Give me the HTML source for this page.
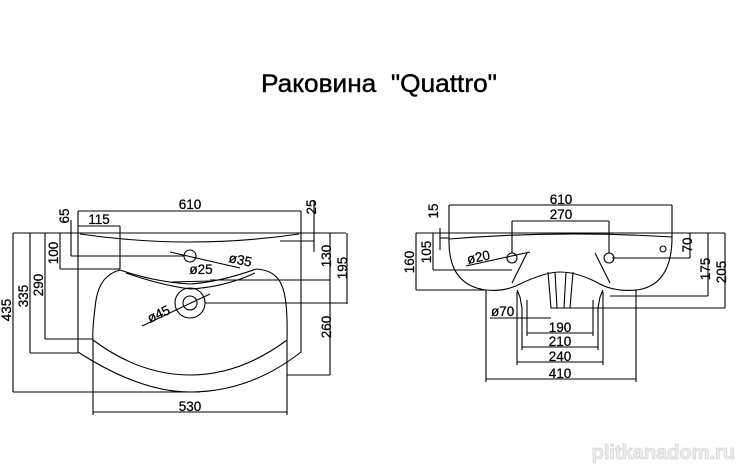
<!DOCTYPE html>
<html><head><meta charset="utf-8"><style>
html,body{margin:0;padding:0;background:#fff;}
svg{display:block;}
text{font-family:"Liberation Sans",sans-serif;fill:#000;}
.d{font-size:13.5px;stroke:#000;stroke-width:0.25;}
</style></head><body>
<svg width="743" height="468" viewBox="0 0 743 468" xmlns="http://www.w3.org/2000/svg">
<text x="379" y="92" text-anchor="middle" font-size="25" textLength="236" lengthAdjust="spacingAndGlyphs" style="stroke:#000;stroke-width:0.4;white-space:pre" xml:space="preserve">Раковина  "Quattro"</text>

<g fill="none" stroke="#000" stroke-width="1.1">
<line x1="13" y1="233" x2="346" y2="233"/>
<path d="M78 233 L78 352 Q140 392 190 392 Q250 392 301 352 L301 233"/>
<path d="M80 234 Q190 250 299 234"/>
<path d="M120 270 Q100 275 96 300 Q92 330 93 340 Q140 375 190 375 Q240 375 287 340 Q288 300 282 286 Q276 270 256 269 Q220 282 190 284 Q155 282 120 270 Z"/>
<path d="M126 273 Q160 285 190 289 Q225 287 255 273"/>
<line x1="172" y1="282" x2="210" y2="281"/>
<circle cx="190" cy="256" r="6"/>
<circle cx="190" cy="303" r="15"/>
<circle cx="190" cy="303" r="7"/>
<line x1="170" y1="252" x2="240" y2="268"/>
<line x1="142" y1="326" x2="210" y2="294"/>
<line x1="78" y1="211" x2="301" y2="211"/>
<line x1="78" y1="211" x2="78" y2="233"/>
<line x1="301" y1="211" x2="301" y2="233"/>
<line x1="78" y1="226" x2="120" y2="226"/>
<line x1="120" y1="226" x2="120" y2="269"/>
<line x1="13" y1="233" x2="13" y2="392"/><line x1="13" y1="392" x2="200" y2="392"/>
<line x1="30" y1="233" x2="30" y2="353"/><line x1="30" y1="353" x2="78" y2="353"/>
<line x1="45" y1="233" x2="45" y2="339"/><line x1="45" y1="339" x2="93" y2="339"/>
<line x1="60" y1="233" x2="60" y2="269"/><line x1="60" y1="269" x2="120" y2="269"/>
<line x1="71" y1="220" x2="71" y2="256"/><line x1="71" y1="256" x2="184" y2="256"/>
<line x1="314" y1="200" x2="314" y2="252"/><line x1="280" y1="241" x2="314" y2="241"/>
<line x1="330" y1="233" x2="330" y2="375"/>
<line x1="210" y1="280" x2="330" y2="280"/>
<line x1="287" y1="375" x2="330" y2="375"/>
<line x1="347" y1="233" x2="347" y2="304"/>
<line x1="205" y1="303" x2="347" y2="303"/>
<line x1="93" y1="340" x2="93" y2="415"/>
<line x1="287" y1="340" x2="287" y2="415"/>
<line x1="93" y1="412" x2="287" y2="412"/>

<line x1="416" y1="233" x2="725" y2="233"/>
<path d="M449 239 Q560 230 672 237"/>
<path d="M449 239 Q448 285 486 290 Q505 292 520 284 Q545 272 560 272 Q578 272 600 284 Q615 292 637 290 Q672 285 672 237"/>
<path d="M527 253 L512 283"/>
<path d="M595 253 L610 283"/>
<path d="M548 272 L551 308 L570 308 L573 272"/>
<path d="M555 272 L557 308 M566 272 L564 308"/>
<path d="M517 290 L520 297 L522 308 M603 290 L600 297 L598 308"/>
<circle cx="512" cy="258" r="5"/>
<circle cx="609" cy="258" r="5"/>
<circle cx="663" cy="249" r="3"/>
<line x1="449" y1="205" x2="672" y2="205"/>
<line x1="449" y1="205" x2="449" y2="240"/>
<line x1="672" y1="205" x2="672" y2="237"/>
<line x1="512" y1="221" x2="609" y2="221"/>
<line x1="512" y1="221" x2="512" y2="253"/>
<line x1="609" y1="221" x2="609" y2="253"/>
<line x1="416" y1="233" x2="416" y2="290"/><line x1="416" y1="290" x2="486" y2="290"/>
<line x1="433" y1="233" x2="433" y2="270"/><line x1="433" y1="270" x2="512" y2="270"/>
<line x1="440" y1="228" x2="440" y2="250"/><line x1="440" y1="238" x2="449" y2="238"/>
<line x1="690" y1="233" x2="690" y2="258"/><line x1="612" y1="258" x2="690" y2="258"/>
<line x1="708" y1="233" x2="708" y2="296"/><line x1="610" y1="296" x2="708" y2="296"/>
<line x1="725" y1="233" x2="725" y2="308"/><line x1="570" y1="308" x2="725" y2="308"/>
<line x1="490" y1="318" x2="551" y2="318"/>
<line x1="527" y1="300" x2="527" y2="336"/><line x1="593" y1="300" x2="593" y2="336"/>
<line x1="527" y1="333" x2="593" y2="333"/>
<line x1="522" y1="308" x2="522" y2="350"/><line x1="598" y1="308" x2="598" y2="350"/>
<line x1="522" y1="347" x2="598" y2="347"/>
<line x1="517" y1="292" x2="517" y2="365"/><line x1="603" y1="292" x2="603" y2="365"/>
<line x1="517" y1="362" x2="603" y2="362"/>
<line x1="486" y1="290" x2="486" y2="382"/><line x1="636" y1="290" x2="636" y2="382"/>
<line x1="486" y1="379" x2="636" y2="379"/>
<line x1="466" y1="266" x2="530" y2="252"/>
</g>

<g class="d">
<text x="190" y="209" text-anchor="middle">610</text>
<text x="99" y="224" text-anchor="middle">115</text>
<text x="201" y="274" text-anchor="middle">ø25</text>
<text x="228" y="262" transform="rotate(12 228 262)">ø35</text>
<text x="150" y="323" transform="rotate(-25 150 323)">ø45</text>
<text x="190" y="411" text-anchor="middle">530</text>
<text transform="translate(11 310) rotate(-90)" text-anchor="middle">435</text>
<text transform="translate(28 296) rotate(-90)" text-anchor="middle">335</text>
<text transform="translate(43 285) rotate(-90)" text-anchor="middle">290</text>
<text transform="translate(58 253) rotate(-90)" text-anchor="middle">100</text>
<text transform="translate(69 216) rotate(-90)" text-anchor="middle">65</text>
<text transform="translate(316 207) rotate(-90)" text-anchor="middle">25</text>
<text transform="translate(331 256) rotate(-90)" text-anchor="middle">130</text>
<text transform="translate(347 268) rotate(-90)" text-anchor="middle">195</text>
<text transform="translate(331 327) rotate(-90)" text-anchor="middle">260</text>

<text x="561" y="204" text-anchor="middle">610</text>
<text x="561" y="219" text-anchor="middle">270</text>
<text x="468" y="264" transform="rotate(-12 468 264)">ø20</text>
<text x="491" y="316">ø70</text>
<text x="560" y="332" text-anchor="middle">190</text>
<text x="560" y="346" text-anchor="middle">210</text>
<text x="560" y="361" text-anchor="middle">240</text>
<text x="560" y="378" text-anchor="middle">410</text>
<text transform="translate(414 262) rotate(-90)" text-anchor="middle">160</text>
<text transform="translate(431 252) rotate(-90)" text-anchor="middle">105</text>
<text transform="translate(438 211) rotate(-90)" text-anchor="middle">15</text>
<text transform="translate(692 245) rotate(-90)" text-anchor="middle">70</text>
<text transform="translate(710 269) rotate(-90)" text-anchor="middle">175</text>
<text transform="translate(726 272) rotate(-90)" text-anchor="middle">205</text>
</g>

<text x="735" y="459" text-anchor="end" font-size="20" font-weight="bold" style="fill:#eee;stroke:#ccc;stroke-width:0.6">plitkanadom.ru</text>
</svg>
</body></html>
